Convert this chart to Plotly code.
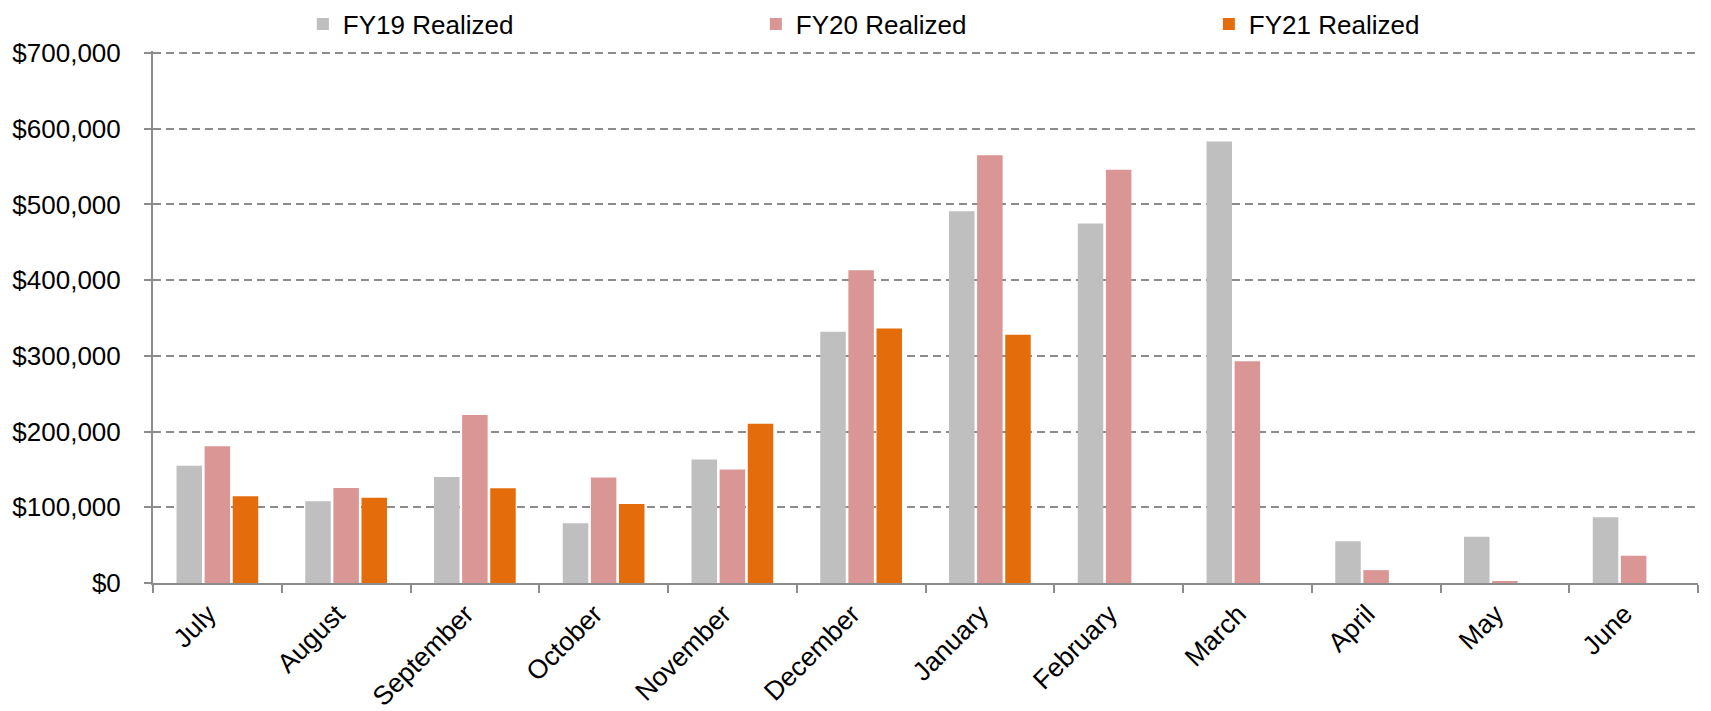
import plotly.graph_objects as go

months = ["July", "August", "September", "October", "November", "December",
          "January", "February", "March", "April", "May", "June"]
fy19 = [155000, 108000, 140000, 79000, 163000, 332000, 491000, 475000, 583000, 55000, 61000, 87000]
fy20 = [180500, 125500, 222000, 139500, 150000, 413000, 565000, 546000, 293000, 17000, 2500, 36000]
fy21 = [114500, 112500, 125000, 104500, 210500, 336000, 328000, None, None, None, None, None]
y_tickvals = [0, 100000, 200000, 300000, 400000, 500000, 600000, 700000]
y_ticktext = ["$0", "$100,000", "$200,000", "$300,000", "$400,000", "$500,000", "$600,000", "$700,000"]

series = [("FY19 Realized", fy19, "#BFBFBF"),
          ("FY20 Realized", fy20, "#DA9694"),
          ("FY21 Realized", fy21, "#E46C0A")]

FONT = "Liberation Sans, Arial, sans-serif"

fig = go.Figure()
for name, vals, col in series:
    fig.add_trace(go.Bar(x=months, y=vals, name=name, marker_color=col,
                         marker_line_width=0))

fig.update_layout(
    width=1703, height=703,
    margin=dict(l=145, r=13, t=43, b=128, autoexpand=False),
    paper_bgcolor="white", plot_bgcolor="white",
    barmode="group", bargap=0.345, bargroupgap=0.093,
    font=dict(family=FONT, size=26, color="black"),
    legend=dict(orientation="h", x=0.097, xanchor="left", y=0.977, yref="container",
                yanchor="middle", entrywidth=408, font=dict(size=26),
                itemwidth=30, bgcolor="rgba(0,0,0,0)"),
    showlegend=True,
)
fig.update_xaxes(
    showline=True, linecolor="#8C8C8C", linewidth=2,
    ticks="outside", tickson="boundaries", ticklen=8, tickcolor="#8C8C8C", tickwidth=2,
    tickangle=-45, tickfont=dict(size=26.5), showgrid=False, ticklabelshift=-9,
    ticklabelstandoff=3,
)
fig.update_yaxes(
    range=[0, 702700], tickmode="array", tickvals=y_tickvals, ticktext=y_ticktext,
    showline=True, linecolor="#8C8C8C", linewidth=2,
    ticks="outside", ticklen=7, tickcolor="#8C8C8C", tickwidth=2,
    showgrid=True, gridcolor="#8C8C8C", gridwidth=1.5, griddash="8px,5px",
    zeroline=False, tickfont=dict(size=26), ticklabelstandoff=18,
)

fig.write_html("out.html")
